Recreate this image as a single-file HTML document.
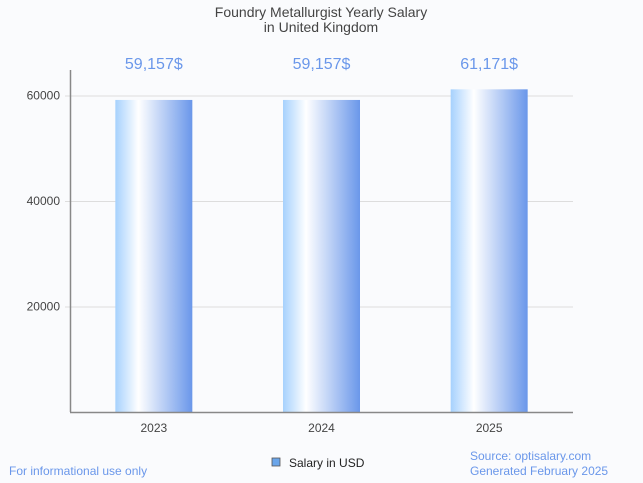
<!DOCTYPE html>
<html><head><meta charset="utf-8"><style>
body{margin:0;background:#fafbfd;}
svg{display:block;font-family:"Liberation Sans",sans-serif;}
</style></head><body>
<svg width="643" height="483">
<defs>
<linearGradient id="g" x1="0" x2="1" y1="0" y2="0">
<stop offset="0" stop-color="#a6d1fd"/>
<stop offset="0.3" stop-color="#ffffff"/>
<stop offset="1" stop-color="#6a97ea"/>
</linearGradient>
</defs>
<rect width="643" height="483" fill="#fafbfd"/>
<text x="321" y="17" text-anchor="middle" font-size="14" fill="#444">Foundry Metallurgist Yearly Salary</text>
<text x="321" y="32" text-anchor="middle" font-size="14" fill="#444">in United Kingdom</text>
<g id="grid"></g>
<g id="bars"></g>
<line x1="70.5" y1="70" x2="70.5" y2="412" stroke="#888" stroke-width="1.5"/>
<line x1="70" y1="412.5" x2="573" y2="412.5" stroke="#888" stroke-width="1.5"/>
<g>
<rect x="272" y="458" width="8" height="8" fill="#6aa5ea" stroke="#555" stroke-width="0.8"/>
<text x="289" y="467" font-size="12" fill="#222">Salary in USD</text>
</g>
<text x="9" y="475" font-size="12" fill="#6a97ea">For informational use only</text>
<text x="470" y="460" font-size="12" fill="#6a97ea">Source: optisalary.com</text>
<text x="470" y="475" font-size="12" fill="#6a97ea">Generated February 2025</text>
</svg>
<script>
const categories=["2023","2024","2025"];
const salaries=[59157,59157,61171];
const labels=["59,157$","59,157$","61,171$"];
const yTicks=[20000,40000,60000];
const NS="http://www.w3.org/2000/svg";
const x0=70,x1=573,yBase=412,pxPer=105.5/20000;
const y=v=>yBase-v*pxPer;
const band=(x1-x0)/categories.length;
const grid=document.getElementById('grid'),bars=document.getElementById('bars');
function mk(t,a,p){const e=document.createElementNS(NS,t);for(const k in a)e.setAttribute(k,a[k]);p.appendChild(e);return e;}
yTicks.forEach(v=>{
 const l=mk('line',{x1:x0-5,x2:x1,y1:y(v)+0.5,y2:y(v)+0.5,stroke:'#ddd'},grid);
 
 
 const t=mk('text',{x:60,y:y(v)+4,'text-anchor':'end','font-size':12,fill:'#444'},grid);
 t.textContent=v;
 
 
});
categories.forEach((c,i)=>{
 const cx=x0+band*(i+0.5),w=77;
 const r=mk('rect',{x:cx-w/2,y:y(salaries[i]),width:w,height:yBase-y(salaries[i]),fill:'url(#g)'},bars);
 
 
 const v=mk('text',{x:cx,y:69,'text-anchor':'middle','font-size':16,fill:'#6a97ea'},bars);
 v.textContent=labels[i];
 
 
 const t=mk('text',{x:cx,y:432,'text-anchor':'middle','font-size':12,fill:'#444'},bars);
 t.textContent=c;
 
 
});
</script>
</body></html>
